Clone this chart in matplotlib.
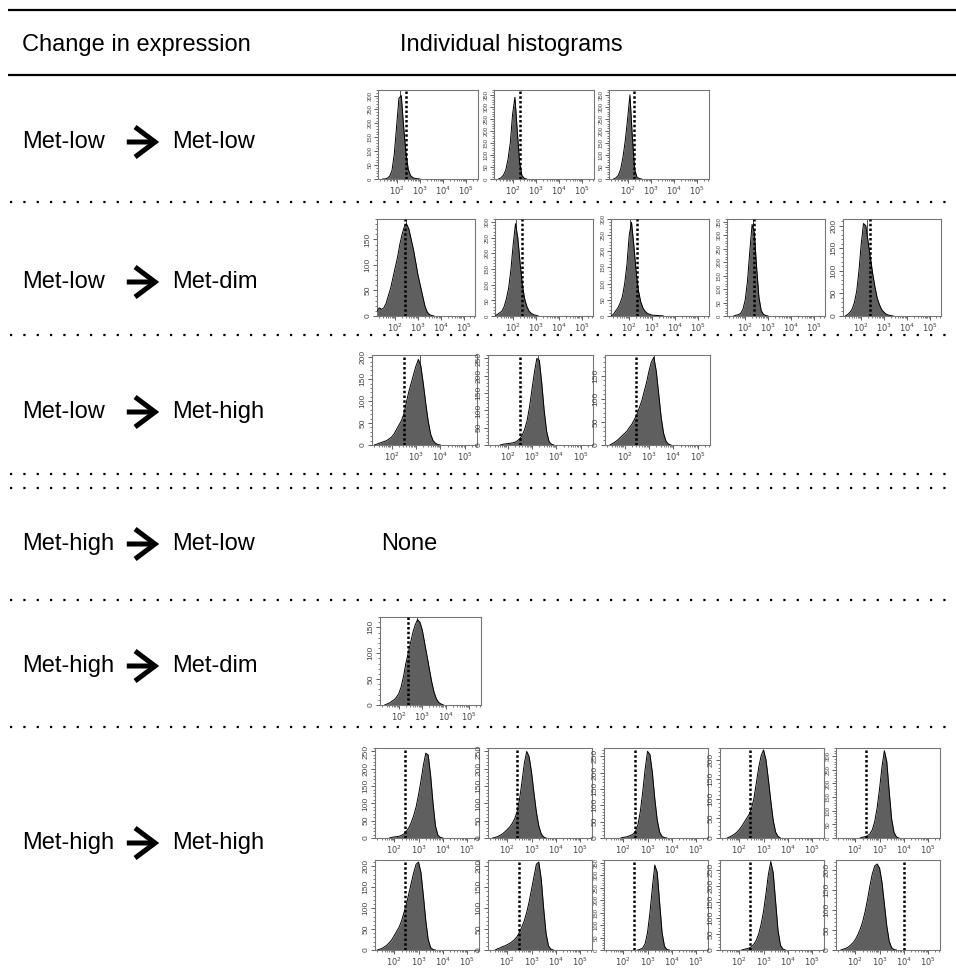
import numpy as np
import matplotlib
matplotlib.use("Agg")
import matplotlib.pyplot as plt
from matplotlib.patches import FancyArrowPatch
from matplotlib.ticker import FixedLocator, MultipleLocator, NullFormatter, FuncFormatter, LogLocator

plt.rcParams['font.family'] = ['Liberation Sans', 'DejaVu Sans']

# ---------------- data ----------------
HEADER_LEFT = "Change in expression"
HEADER_RIGHT = "Individual histograms"
ROW_FROM = ["Met-low", "Met-low", "Met-low", "Met-high", "Met-high", "Met-high"]
ROW_TO = ["Met-low", "Met-dim", "Met-high", "Met-low", "Met-dim", "Met-high"]
NONE_TEXT = "None"
BIN_STEP = 0.1          # log10 width of a histogram bin
X_TICK_EXP = [2, 3, 4, 5]

# Row 1 : Met-low -> Met-low
R1_START = [1.5, 1.5, 1.5]
R1_COUNTS = [
    [0, 3, 10, 30, 90, 190, 290, 300, 190, 95, 35, 12, 5, 2, 1],
    [5, 15, 35, 80, 150, 270, 340, 200, 70, 15, 3],
    [5, 15, 40, 90, 160, 250, 350, 180, 40, 8, 2],
]
R1_GATE = [2.40, 2.32, 2.28]
R1_PEAK = [2.15, None, None]
R1_YMAX = [320, 370, 370]

# Row 2 : Met-low -> Met-dim
R2_START = [1.2, 1.3, 1.3, 1.6, 1.4]
R2_COUNTS = [
    [10, 16, 13, 16, 25, 40, 55, 75, 95, 115, 140, 160, 175, 180, 170, 150, 130, 105, 80, 60, 40, 20, 8, 3, 1],
    [5, 10, 15, 30, 55, 90, 150, 230, 295, 250, 170, 100, 55, 30, 15, 8, 4, 2],
    [5, 15, 25, 40, 60, 100, 160, 250, 290, 220, 140, 80, 45, 25, 14, 8, 5, 3, 2, 2, 1, 1],
    [3, 5, 10, 25, 60, 130, 240, 340, 310, 180, 70, 20, 6, 2],
    [3, 8, 15, 30, 55, 100, 160, 205, 200, 165, 130, 95, 65, 40, 25, 14, 8, 4, 2, 1],
]
R2_GATE = [2.45, 2.38, 2.35, 2.37, 2.38]
R2_PEAK = [2.47, 2.12, 2.05, 2.35, 2.27]
R2_YMAX = [190, 310, 300, 360, 215]

# Row 3 : Met-low -> Met-high
R3_START = [1.4, 1.8, 1.5]
R3_COUNTS = [
    [2, 4, 6, 8, 10, 14, 18, 25, 35, 45, 55, 70, 95, 120, 140, 160, 180, 195, 180, 140, 95, 55, 25, 10, 4, 1],
    [2, 3, 4, 5, 6, 8, 12, 18, 28, 45, 70, 110, 160, 210, 250, 245, 180, 100, 40, 10, 2],
    [3, 6, 10, 15, 20, 25, 30, 38, 45, 55, 65, 80, 95, 115, 135, 160, 180, 190, 160, 110, 60, 25, 8, 2],
]
R3_GATE = [2.52, 2.52, 2.47]
R3_PEAK = [3.17, 3.25, 3.2]
R3_YMAX = [205, 260, 195]

# Row 5 : Met-high -> Met-dim
R5_START = [1.5]
R5_COUNTS = [
    [2, 4, 7, 10, 15, 22, 35, 55, 80, 100, 120, 140, 155, 165, 160, 145, 120, 95, 70, 45, 25, 12, 5, 2],
]
R5_GATE = [2.38]
R5_PEAK = [2.78]
R5_YMAX = [170]

# Row 6 : Met-high -> Met-high (two lines of five)
R6_START = [1.9, 1.5, 2.0, 1.6, 2.3,
            1.4, 1.6, 2.7, 2.2, 1.5]
R6_COUNTS = [
    [2, 3, 4, 5, 8, 12, 20, 30, 45, 65, 90, 125, 165, 210, 245, 240, 180, 100, 35, 8, 2],
    [2, 4, 8, 12, 18, 25, 32, 42, 55, 75, 110, 160, 215, 250, 235, 190, 130, 75, 35, 12, 3],
    [2, 3, 5, 8, 12, 20, 40, 80, 140, 210, 265, 255, 200, 120, 55, 18, 5, 1],
    [3, 6, 10, 15, 22, 30, 40, 50, 60, 75, 100, 140, 180, 210, 225, 200, 150, 95, 45, 15, 4],
    [3, 5, 8, 15, 30, 60, 110, 180, 260, 320, 280, 170, 70, 20, 4],
    [2, 4, 8, 12, 18, 25, 35, 45, 55, 70, 90, 110, 135, 160, 185, 205, 210, 185, 130, 70, 25, 6, 1],
    [3, 5, 8, 10, 13, 16, 20, 25, 32, 42, 55, 70, 90, 115, 145, 175, 205, 210, 170, 100, 40, 10, 2],
    [3, 8, 25, 70, 150, 250, 340, 310, 190, 70, 15, 2],
    [2, 4, 6, 10, 18, 30, 50, 80, 120, 175, 235, 275, 240, 150, 60, 15, 3],
    [2, 4, 7, 12, 18, 26, 38, 52, 70, 95, 125, 160, 190, 210, 215, 205, 170, 115, 60, 22, 6, 1],
]
R6_GATE = [2.45, 2.40, 2.50, 2.45, 2.45,
           2.45, 2.50, 2.45, 2.45, 4.00]
R6_PEAK = [None] * 10
R6_YMAX = [260, 260, 275, 230, 330,
           215, 215, 360, 280, 225]

# ---------------- layout (pixels) ----------------
W, H = 956, 972
fig = plt.figure(figsize=(W / 100, H / 100), dpi=100)

base = fig.add_axes([0, 0, 1, 1])
base.set_xlim(0, W)
base.set_ylim(H, 0)
base.axis("off")

FS = 17
# header
base.plot([8, W], [10, 10], color="black", lw=1.6, solid_capstyle="butt")
base.plot([8, W], [75, 75], color="black", lw=1.6, solid_capstyle="butt")
base.text(22, 45, HEADER_LEFT, fontsize=FS, va="center", ha="left")
base.text(400, 45, HEADER_RIGHT, fontsize=FS, va="center", ha="left")

# dotted separators
for yy in [202, 335, 474, 488, 600, 727]:
    base.plot([10, W], [yy, yy], color="black", lw=1.6, ls=(0, (1, 5.0)))

ROW_Y = [142, 282, 412, 544, 666, 843]
for fr, to, yy in zip(ROW_FROM, ROW_TO, ROW_Y):
    base.text(22, yy, fr, fontsize=FS, va="center", ha="left")
    base.text(172, yy, to, fontsize=FS, va="center", ha="left")
    arr = FancyArrowPatch((124, yy), (162, yy), arrowstyle="->,head_length=0.6,head_width=0.45",
                          mutation_scale=24, lw=3.6, color="black",
                          joinstyle="miter", capstyle="butt")
    base.add_patch(arr)
base.text(381, ROW_Y[3], NONE_TEXT, fontsize=FS, va="center", ha="left")


def xfmt(v, pos):
    e = int(round(np.log10(v)))
    return r"$10^{%d}$" % e


def draw_hist(x0, y0, w, h, start, counts, gate, ymax, peak):
    ax = fig.add_axes([x0 / W, 1 - (y0 + h) / H, w / W, h / H])
    counts = np.asarray(counts, dtype=float)
    logs = start + BIN_STEP * np.arange(len(counts))
    logs = np.concatenate([[logs[0] - BIN_STEP], logs, [logs[-1] + BIN_STEP]])
    ys = np.concatenate([[0], counts, [0]])
    xs = 10 ** logs
    ax.fill_between(xs, ys, color="#5f5f5f", lw=0, zorder=2)
    ax.plot(xs, ys, color="black", lw=0.7, zorder=3)
    if peak is not None:
        ax.axvline(10 ** peak, color="#333333", lw=0.6, zorder=1)
    ax.axvline(10 ** gate, color="black", lw=1.8, ls=(0, (1, 0.9)), zorder=4)
    ax.set_xscale("log")
    ax.set_xlim(10 ** 1.2, 10 ** 5.5)
    ax.set_ylim(0, ymax)
    ax.xaxis.set_major_locator(FixedLocator([10.0 ** e for e in X_TICK_EXP]))
    ax.xaxis.set_major_formatter(FuncFormatter(xfmt))
    ax.xaxis.set_minor_locator(LogLocator(base=10, subs=np.arange(2, 10), numticks=20))
    ax.xaxis.set_minor_formatter(NullFormatter())
    ax.yaxis.set_major_locator(MultipleLocator(50))
    ax.yaxis.set_minor_locator(MultipleLocator(10))
    ysize = 6 if ymax < 300 else 4.3
    ax.tick_params(axis="both", which="major", length=3, width=0.6, color="#444444",
                   labelsize=6, labelcolor="#444444", pad=1)
    ax.tick_params(axis="y", which="major", labelsize=ysize)
    ax.tick_params(axis="both", which="minor", length=1.6, width=0.5, color="#444444")
    for lab in ax.get_yticklabels():
        lab.set_rotation(90)
        lab.set_va("center")
    for s in ax.spines.values():
        s.set_color("#777777")
        s.set_linewidth(0.8)
    return ax


def draw_row(xs, y0, w, h, starts, counts, gates, ymaxs, peaks):
    for i in range(len(counts)):
        draw_hist(xs[i], y0, w, h, starts[i], counts[i], gates[i], ymaxs[i], peaks[i])


draw_row([378, 494, 609], 90, 100, 89, R1_START, R1_COUNTS, R1_GATE, R1_YMAX, R1_PEAK)
draw_row([377, 495, 611, 727, 843], 219, 98, 97, R2_START, R2_COUNTS, R2_GATE, R2_YMAX, R2_PEAK)
draw_row([372, 488, 605], 355, 105, 90, R3_START, R3_COUNTS, R3_GATE, R3_YMAX, R3_PEAK)
draw_row([380], 617, 101, 88, R5_START, R5_COUNTS, R5_GATE, R5_YMAX, R5_PEAK)
draw_row([375, 488, 604, 720, 836], 748, 104, 90, R6_START[:5], R6_COUNTS[:5], R6_GATE[:5], R6_YMAX[:5], R6_PEAK[:5])
draw_row([375, 488, 604, 720, 836], 860, 104, 90, R6_START[5:], R6_COUNTS[5:], R6_GATE[5:], R6_YMAX[5:], R6_PEAK[5:])

fig.savefig("out.png", dpi=100)
